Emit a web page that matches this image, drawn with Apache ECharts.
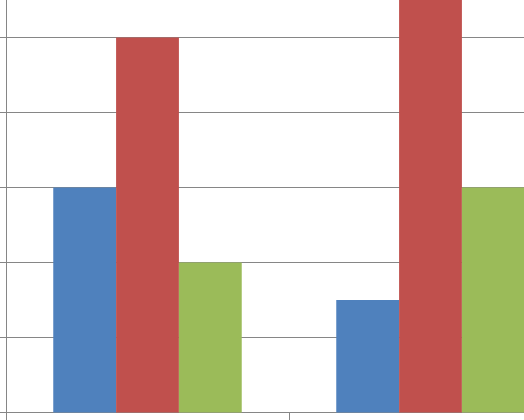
<!DOCTYPE html>
<html><head><meta charset="utf-8">
<script src="https://cdn.jsdelivr.net/npm/echarts@6/dist/echarts.min.js"></script>
<style>
html,body{margin:0;padding:0;background:#fff;width:524px;height:420px;overflow:hidden;position:relative}
#c{position:absolute;left:0;top:-38px;width:572px;height:459px}
</style>
</head><body><div id="c"></div>
<script>
const categories = ['Category 1', 'Category 2'];
const series1 = [3, 1.5];
const series2 = [5, 6];
const series3 = [2, 3];
const yTicks = [0, 1, 2, 3, 4, 5, 6];

const chart = echarts.init(document.getElementById('c'), null, {renderer: 'canvas'});
const axisGray = '#868686';
chart.setOption({
  animation: false,
  grid: {left: 6, right: 0, top: 0.5, bottom: 8.5, containLabel: false},
  xAxis: {
    type: 'category', data: categories,
    axisLine: {lineStyle: {color: axisGray, width: 1}},
    axisTick: {show: true, length: 8, lineStyle: {color: axisGray}},
    axisLabel: {show: false},
    splitLine: {show: false}
  },
  yAxis: {
    type: 'value', min: yTicks[0], max: yTicks[yTicks.length - 1], interval: 1,
    axisLine: {show: true, lineStyle: {color: axisGray, width: 1}},
    axisTick: {show: true, length: 6, lineStyle: {color: axisGray}},
    axisLabel: {show: false},
    splitLine: {show: true, lineStyle: {color: axisGray, width: 1}}
  },
  series: [
    {type: 'bar', data: series1, itemStyle: {color: '#4F81BD'}, barGap: '0%', barCategoryGap: '33.4%'},
    {type: 'bar', data: series2, itemStyle: {color: '#C0504D'}, barGap: '0%', barCategoryGap: '33.4%'},
    {type: 'bar', data: series3, itemStyle: {color: '#9BBB59'}, barGap: '0%', barCategoryGap: '33.4%'}
  ]
});
</script></body></html>
